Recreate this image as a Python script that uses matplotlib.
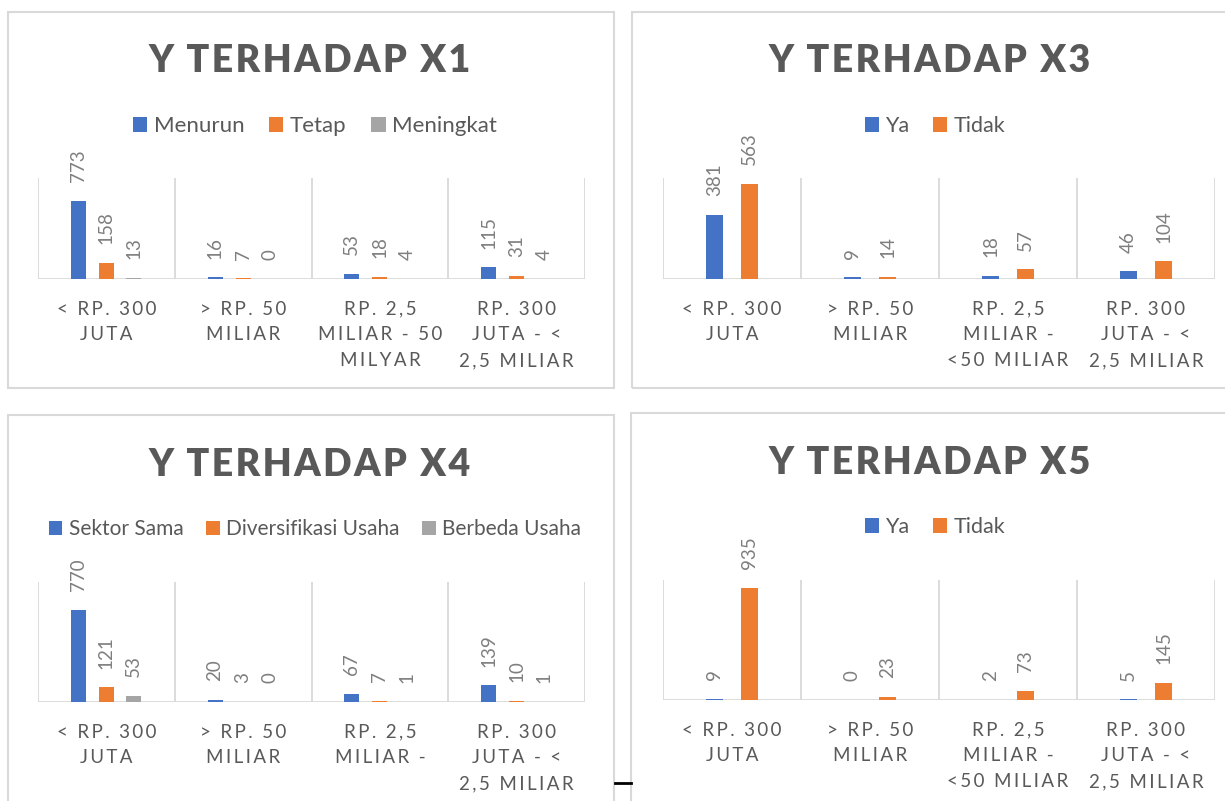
import matplotlib
matplotlib.use('Agg')
import matplotlib.pyplot as plt
from matplotlib.patches import Rectangle
from matplotlib.lines import Line2D
import numpy as np

plt.rcParams['font.family'] = ['Lato', 'DejaVu Sans']

# ---- data ----
cats_a = ['< RP. 300\nJUTA', '> RP. 50\nMILIAR', 'RP. 2,5\nMILIAR - 50\nMILYAR', 'RP. 300\nJUTA - <\n2,5 MILIAR']
cats_b = ['< RP. 300\nJUTA', '> RP. 50\nMILIAR', 'RP. 2,5\nMILIAR -\n<50 MILIAR', 'RP. 300\nJUTA - <\n2,5 MILIAR']
cats_c = ['< RP. 300\nJUTA', '> RP. 50\nMILIAR', 'RP. 2,5\nMILIAR -', 'RP. 300\nJUTA - <\n2,5 MILIAR']

x1_names = ['Menurun', 'Tetap', 'Meningkat']
x1_menurun = [773, 16, 53, 115]
x1_tetap = [158, 7, 18, 31]
x1_meningkat = [13, 0, 4, 4]

x3_names = ['Ya', 'Tidak']
x3_ya = [381, 9, 18, 46]
x3_tidak = [563, 14, 57, 104]

x4_names = ['Sektor Sama', 'Diversifikasi Usaha', 'Berbeda Usaha']
x4_sama = [770, 20, 67, 139]
x4_divers = [121, 3, 7, 10]
x4_beda = [53, 0, 1, 1]

x5_names = ['Ya', 'Tidak']
x5_ya = [9, 0, 2, 5]
x5_tidak = [935, 23, 73, 145]

BLUE = '#4472C4'
ORANGE = '#ED7D31'
GRAY = '#A5A5A5'
TXT = '#595959'
LBL = '#7F7F7F'
LINE = '#D9D9D9'

W, H = 1225, 801
fig = plt.figure(figsize=(W / 100, H / 100), dpi=100)


def px(x, y):
    return x / W, 1 - y / H


def spaced(s, sp='\u2009'):
    # fake letter spacing like the Excel labels
    return '\n'.join(sp.join(list(line)) for line in s.split('\n'))


def box(x0, y0, x1, y1):
    fx, fy = px(x0, y1)
    fig.add_artist(Rectangle((fx, fy), (x1 - x0) / W, (y1 - y0) / H,
                             transform=fig.transFigure, fill=False,
                             edgecolor=LINE, lw=1.5))


def panel(rect, title, tcenter, lcenter, cats, series, names, colors,
          offsets, width, ymax, lfs):
    x0, y0, x1, y1 = rect
    fx, fy = px(x0, y1)
    ax = fig.add_axes([fx, fy, (x1 - x0) / W, (y1 - y0) / H])
    xs = np.arange(len(cats))
    for vals, name, col, off in zip(series, names, colors, offsets):
        ax.bar(xs + off, vals, width, color=col, label=name)
        for xi, v in zip(xs, vals):
            ax.annotate(str(v), (xi + off, v), xytext=(0, 13.5),
                        textcoords='offset points', rotation=90,
                        ha='center', va='bottom', fontsize=13.5,
                        color=LBL, annotation_clip=False)
    ax.set_xlim(-0.5, len(cats) - 0.5)
    ax.set_ylim(0, ymax)
    ax.axhline(0, color=LINE, lw=2, zorder=0)
    for b in np.arange(len(cats) + 1) - 0.5:
        ax.axvline(b, color=LINE, lw=1.3, zorder=0)
    for s in ax.spines.values():
        s.set_visible(False)
    ax.set_yticks([])
    ax.set_xticks(xs)
    ax.set_xticklabels([spaced(c) for c in cats], fontsize=13.5,
                       color=TXT, linespacing=1.62)
    ax.tick_params(axis='x', length=0, pad=15.5)
    tx, ty = px(*tcenter)
    fig.text(tx, ty, spaced(title, '\u200a'), ha='center', va='center',
             fontsize=27, fontweight='heavy', color=TXT)
    lx, ly = px(*lcenter)
    ax.legend(loc='center', bbox_to_anchor=(lx, ly),
              bbox_transform=fig.transFigure, ncol=len(names),
              frameon=False, fontsize=lfs, labelcolor=TXT,
              handlelength=0.65, handleheight=0.65, handletextpad=0.3,
              columnspacing=1.1, borderpad=0)
    return ax


# panel frames
box(8, 12, 614, 388)
box(632, 12, 1240, 388)
box(8, 415, 614, 820)
box(631, 413, 1240, 820)

panel((38, 178, 585, 279), 'Y TERHADAP X1', (310, 61), (315, 126),
      cats_a, [x1_menurun, x1_tetap, x1_meningkat], x1_names,
      [BLUE, ORANGE, GRAY], [-0.205, 0.0, 0.2], 0.11, 1000, 16)

panel((663, 178, 1215, 279), 'Y TERHADAP X3', (930, 61), (935, 126),
      cats_b, [x3_ya, x3_tidak], x3_names,
      [BLUE, ORANGE], [-0.127, 0.127], 0.13, 600, 15.5)

panel((38, 582, 585, 702), 'Y TERHADAP X4', (310, 465), (315, 529),
      cats_c, [x4_sama, x4_divers, x4_beda], x4_names,
      [BLUE, ORANGE, GRAY], [-0.205, 0.0, 0.2], 0.11, 1000, 15)

panel((663, 580, 1215, 700), 'Y TERHADAP X5', (930, 463), (935, 527),
      cats_b, [x5_ya, x5_tidak], x5_names,
      [BLUE, ORANGE], [-0.127, 0.127], 0.13, 1000, 15.5)

# small stray dash between the lower panels
fig.add_artist(Line2D([615 / W, 631 / W], [1 - 783 / H, 1 - 783 / H],
                      transform=fig.transFigure, color='black', lw=2))

fig.savefig('out.png', dpi=100, facecolor='white')
